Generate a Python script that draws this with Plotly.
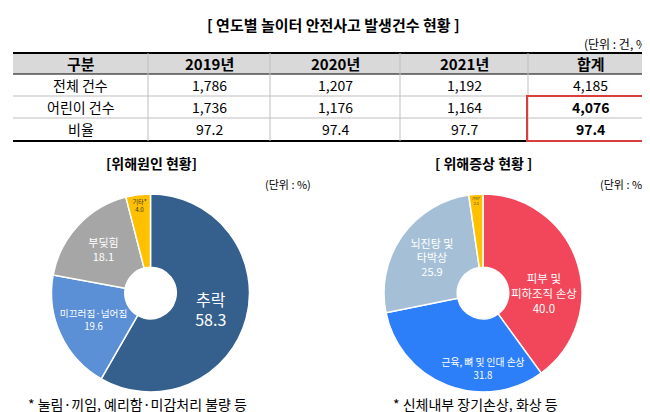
import plotly.graph_objects as go

# 표 데이터
columns = ["구분", "2019년", "2020년", "2021년", "합계"]
row_names = ["전체 건수", "어린이 건수", "비율"]
y2019 = ["1,786", "1,736", "97.2"]
y2020 = ["1,207", "1,176", "97.4"]
y2021 = ["1,192", "1,164", "97.7"]
total = ["4,185", "<b>4,076</b>", "<b>97.4</b>"]

# 위해원인
cause_labels = ["추락", "미끄러짐·넘어짐", "부딪힘", "기타*"]
cause_values = [58.3, 19.6, 18.1, 4.0]
cause_colors = ["#355f8d", "#5b8fd6", "#a6a6a6", "#ffc000"]

# 위해증상
symptom_labels = ["피부 및<br>피하조직 손상", "근육, 뼈 및 인대 손상", "뇌진탕 및<br>타박상", "기타*"]
symptom_values = [40.0, 31.8, 25.9, 2.3]
symptom_colors = ["#f2475a", "#2d7ff9", "#a5bfd6", "#ffc000"]

FONT = "Noto Sans CJK KR"
W, H = 650, 412


def px(x, y):
    return x / W, 1 - y / H


fig = go.Figure()

# 표: 선과 글자 (plotly Table은 행 높이가 너무 커져서 직접 그림)
col_edges = [5, 140, 262, 392, 520, 645]
row_edges = [45, 66, 88, 110, 133]
table_rows = [columns] + [list(r) for r in zip(row_names, y2019, y2020, y2021, total)]

hx0, hy0 = px(5, 45)
hx1, hy1 = px(645, 66)
fig.add_shape(type="rect", xref="paper", yref="paper", x0=hx0, x1=hx1, y0=hy1, y1=hy0,
              fillcolor="#d9d9d9", line=dict(width=0), layer="below")
for i, yy in enumerate(row_edges):
    _, py = px(0, yy)
    w = 2 if i in (0, len(row_edges) - 1) else 1
    c = "black" if i in (0, 1, len(row_edges) - 1) else "#bfbfbf"
    fig.add_shape(type="line", xref="paper", yref="paper", x0=hx0, x1=hx1, y0=py, y1=py,
                  line=dict(color=c, width=w))
for xx in col_edges[1:-1]:
    vx, _ = px(xx, 0)
    _, t = px(0, 45)
    _, b = px(0, 133)
    fig.add_shape(type="line", xref="paper", yref="paper", x0=vx, x1=vx, y0=b, y1=t,
                  line=dict(color="#bfbfbf", width=1))
for r, row in enumerate(table_rows):
    cy = (row_edges[r] + row_edges[r + 1]) / 2
    for c, val in enumerate(row):
        cx = (col_edges[c] + col_edges[c + 1]) / 2
        txt = f"<b>{val}</b>" if r == 0 else val
        xx, yy = px(cx, cy)
        fig.add_annotation(text=txt, x=xx, y=yy, xref="paper", yref="paper", showarrow=False,
                           xanchor="center", yanchor="middle",
                           font=dict(family=FONT, size=15 if r == 0 else 14, color="black"))


def text_list(labels, values):
    return [f"{l}<br>{v:.1f}" for l, v in zip(labels, values)]


fig.add_trace(go.Pie(
    labels=cause_labels, values=cause_values, sort=False, direction="clockwise",
    rotation=0, hole=0.26, marker=dict(colors=cause_colors, line=dict(color="white", width=1.5)),
    text=text_list(cause_labels, cause_values), textinfo="text", textposition="inside",
    insidetextorientation="horizontal", showlegend=False, hoverinfo="label+value",
    textfont=dict(family=FONT, size=[16, 11, 11, 7], color=["white", "white", "white", "#333"]),
    domain=dict(x=[40 / W, 245 / W], y=[1 - 384 / H, 1 - 186 / H]),
))
fig.add_trace(go.Pie(
    labels=symptom_labels, values=symptom_values, sort=False, direction="clockwise",
    rotation=0, hole=0.26, marker=dict(colors=symptom_colors, line=dict(color="white", width=1.5)),
    text=text_list(symptom_labels, symptom_values), textinfo="text", textposition="inside",
    insidetextorientation="horizontal", showlegend=False, hoverinfo="label+value",
    textfont=dict(family=FONT, size=[12, 12, 11, 6], color=["white", "white", "white", "#333"]),
    domain=dict(x=[373 / W, 577 / W], y=[1 - 384 / H, 1 - 186 / H]),
))

annos = [
    ("<b>[ 연도별 놀이터 안전사고 발생건수 현황 ]</b>", 325, 17, 15, "center"),
    ("(단위 : 건, %)", 645, 36, 12, "right"),
    ("<b>[위해원인 현황]</b>", 143, 155, 14, "center"),
    ("(단위 : %)", 305, 176, 11, "right"),
    ("<b>[ 위해증상 현황 ]</b>", 475, 155, 14, "center"),
    ("(단위 : %)", 640, 176, 11, "right"),
    ("* 눌림·끼임, 예리함·미감처리 불량 등", 18, 396, 14, "left"),
    ("* 신체내부 장기손상, 화상 등", 383, 396, 14, "left"),
]
for t, x, y, s, a in annos:
    xx, yy = px(x, y)
    fig.add_annotation(text=t, x=xx, y=yy, xref="paper", yref="paper", showarrow=False,
                       xanchor=a, yanchor="middle", font=dict(family=FONT, size=s, color="black"))

# 합계 강조 상자
rx0, ry0 = px(519, 88)
rx1, ry1 = px(642, 133)
fig.add_shape(type="rect", xref="paper", yref="paper", x0=rx0, x1=rx1, y0=ry1, y1=ry0,
              line=dict(color="#d93d3d", width=2))

fig.update_layout(width=W, height=H, margin=dict(l=0, r=0, t=0, b=0),
                  paper_bgcolor="white", plot_bgcolor="white")
fig.write_html("out.html")
